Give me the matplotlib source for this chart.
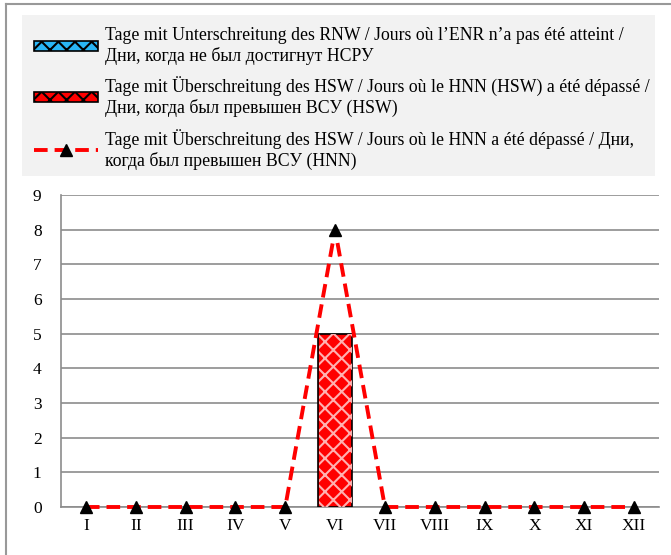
import numpy as np
import matplotlib.pyplot as plt
from matplotlib.patches import Patch, Rectangle
from matplotlib.lines import Line2D

plt.rcParams['font.family'] = ['Liberation Serif', 'DejaVu Serif']
plt.rcParams['hatch.linewidth'] = 1.5

# Daten
monate = ["I", "II", "III", "IV", "V", "VI", "VII", "VIII", "IX", "X", "XI", "XII"]
rnw_tage = [0, 0, 0, 0, 0, 0, 0, 0, 0, 0, 0, 0]
hsw_tage = [0, 0, 0, 0, 0, 5, 0, 0, 0, 0, 0, 0]
hnn_tage = [0, 0, 0, 0, 0, 8, 0, 0, 0, 0, 0, 0]

labels = ["Tage mit Unterschreitung des RNW / Jours où l\u2019ENR n\u2019a pas été atteint /\nДни, когда не был достигнут НСРУ",
          "Tage mit Überschreitung des HSW / Jours où le HNN (HSW) a été dépassé /\nДни, когда был превышен ВСУ (HSW)",
          "Tage mit Überschreitung des HSW / Jours où le HNN a été dépassé / Дни,\nкогда был превышен ВСУ (HNN)"]

fig = plt.figure(figsize=(6.71, 5.55), dpi=100)
ax = fig.add_axes([61/671, 1 - 507/555, 598/671, 312/555])

x = np.arange(len(monate))
lw_rnw = [1.2 if v > 0 else 0 for v in rnw_tage]
lw_hsw = [1.2 if v > 0 else 0 for v in hsw_tage]
ax.bar(x, rnw_tage, width=0.68, color="#29b6f6", edgecolor="black", linewidth=lw_rnw, zorder=3)
ax.bar(x, hsw_tage, width=0.68, color="red", edgecolor="black", linewidth=lw_hsw, zorder=3)
ax.bar(x, hsw_tage, width=0.66, color="none", edgecolor="#ffb0b0", hatch="xx", linewidth=0, zorder=3)
ax.plot(x, hnn_tage, color="red", linestyle=(0, (3.5, 1.8)), linewidth=2.8,
        marker="^", markersize=8, markerfacecolor="black", markeredgecolor="black",
        zorder=4, clip_on=False)

ax.set_xlim(-0.5, 11.5)
ax.set_ylim(0, 9)
ax.set_yticks(range(0, 10))
ax.set_xticks(x)
ax.set_xticklabels(monate)
ax.tick_params(length=0, labelsize=12.5, colors="black")
ax.tick_params(axis="y", pad=14)
ax.tick_params(axis="x", pad=8)
ax.grid(axis="y", color="#8c8c8c", linewidth=1.2, zorder=0)
for s in ["top", "right"]:
    ax.spines[s].set_visible(False)
for s in ["left", "bottom"]:
    ax.spines[s].set_color("#8c8c8c")
    ax.spines[s].set_linewidth(1.2)

# Rahmen
fig.add_artist(Line2D([6/671, 6/671], [0, 1 - 4/555], color="#999999", lw=1.5, transform=fig.transFigure))
fig.add_artist(Line2D([6/671, 1], [1 - 4/555, 1 - 4/555], color="#999999", lw=1.5, transform=fig.transFigure))
fig.add_artist(Rectangle((22/671, 1 - 176/555), 633/671, 161/555, facecolor="#f2f2f2",
                         edgecolor="none", transform=fig.transFigure, zorder=0))

handles = [Patch(facecolor="#29b6f6", edgecolor="black", hatch="xx", linewidth=1.2),
           Patch(facecolor="red", edgecolor="black", hatch="xx", linewidth=1.2),
           Line2D([], [], color="red", linestyle=(0, (3.5, 1.8)), linewidth=2.8, marker="^",
                  markersize=8, markerfacecolor="black", markeredgecolor="black")]
leg = fig.legend(handles, labels, loc="upper left", bbox_to_anchor=(20/671, 1 - 13/555),
                 frameon=False, fontsize=12.75, handlelength=3.6, handleheight=0.45,
                 handletextpad=0.4, labelspacing=0.65, borderpad=0.3)

fig.savefig("out.png", dpi=100)
